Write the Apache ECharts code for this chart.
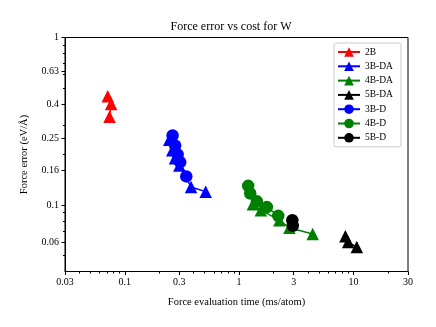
<!DOCTYPE html>
<html>
<head>
<meta charset="utf-8">
<script src="https://cdn.jsdelivr.net/npm/echarts@6/dist/echarts.min.js"></script>
<style>
  html, body { margin: 0; padding: 0; background: #fff; }
  #chart { width: 436px; height: 327px; }
</style>
</head>
<body>
<div id="chart"></div>
<script>
// tick values and labels (log axes)
const xMajor = [0.03, 0.1, 0.3, 1, 3, 10, 30]
const xMajorLabels = ['0.03', '0.1', '0.3', '1', '3', '10', '30']
const xMinor = [0.04, 0.05, 0.06, 0.07, 0.08, 0.09, 0.2, 0.4, 0.5, 0.6, 0.7, 0.8, 0.9,
  2, 4, 5, 6, 7, 8, 9, 20]
const yMajor = [0.06, 0.1, 0.16, 0.25, 0.4, 0.63, 1]
const yMajorLabels = ['0.06', '0.1', '0.16', '0.25', '0.4', '0.63', '1']
const yMinor = [0.05, 0.07, 0.08, 0.09, 0.2, 0.3, 0.5, 0.6, 0.7, 0.8, 0.9]

// series values: time (ms/atom) and force error (eV/Å)
const time2B = [0.071, 0.076, 0.0735]
const err2B = [0.445, 0.40, 0.336]
const time3BDA = [0.245, 0.26, 0.275, 0.30, 0.38, 0.51]
const err3BDA = [0.245, 0.212, 0.19, 0.172, 0.128, 0.12]
const time4BDA = [1.32, 1.55, 2.25, 2.75, 4.4]
const err4BDA = [0.101, 0.093, 0.081, 0.073, 0.067]
const time5BDA = [8.5, 9.0, 10.7]
const err5BDA = [0.065, 0.06, 0.056]
const time3BD = [0.262, 0.276, 0.29, 0.305, 0.345]
const err3BD = [0.26, 0.226, 0.2, 0.18, 0.148]
const time4BD = [1.2, 1.25, 1.43, 1.75, 2.2]
const err4BD = [0.13, 0.117, 0.105, 0.097, 0.086]
const time5BD = [2.92, 2.95]
const err5BD = [0.081, 0.075]

const FONT = '"Liberation Serif", "DejaVu Serif", serif'

function pairs(xs, ys) {
  return xs.map((x, i) => [x, ys[i]])
}

function labelFor(ticks, labels) {
  return (v) => {
    const i = ticks.findIndex(t => Math.abs(t - v) / t < 1e-3)
    return i >= 0 ? labels[i] : ''
  }
}

function makeSeries(name, xs, ys, color, symbol) {
  return {
    name,
    type: 'line',
    data: pairs(xs, ys),
    symbol,
    symbolSize: 12.5,
    showAllSymbol: true,
    color,
    lineStyle: { color, width: 1.5 },
    itemStyle: { color },
    emphasis: { disabled: true },
    animation: false,
  }
}

const chart = echarts.init(document.getElementById('chart'), null, { renderer: 'canvas' })

const option = {
  animation: false,
  graphic: [{
    type: 'text',
    left: 236.5 - 66,
    top: 21,
    style: { text: 'Force error vs cost for W', font: '12px ' + FONT, fill: '#000' },
  }],
  grid: {
    left: 65, right: 28, top: 37.5, bottom: 55.5,
    show: true, borderColor: '#000', borderWidth: 1,
  },
  legend: {
    orient: 'vertical',
    left: 334,
    top: 43,
    padding: [4, 8, 4, 3],
    itemWidth: 22,
    itemHeight: 12,
    itemGap: 4.3,
    backgroundColor: '#fff',
    borderColor: '#ccc',
    borderWidth: 1,
    borderRadius: 2,
    textStyle: { fontFamily: FONT, fontSize: 9.5, color: '#000' },
    data: ['2B', '3B-DA', '4B-DA', '5B-DA', '3B-D', '4B-D', '5B-D'],
  },
  xAxis: [{
    type: 'log', logBase: 10, min: 0.03, max: 30,
    name: 'Force evaluation time (ms/atom)',
    nameLocation: 'middle', nameGap: 25,
    nameTextStyle: { fontFamily: FONT, fontSize: 10.5, color: '#000' },
    axisLine: { lineStyle: { color: '#000', width: 1 } },
    axisTick: { customValues: xMajor, length: 3.5, lineStyle: { color: '#000' } },
    axisLabel: {
      customValues: xMajor, formatter: labelFor(xMajor, xMajorLabels),
      fontFamily: FONT, fontSize: 10, color: '#000', margin: 6,
    },
    splitLine: { show: false },
  }, {
    type: 'log', logBase: 10, min: 0.03, max: 30, position: 'bottom',
    axisLine: { show: false },
    axisTick: { customValues: xMinor, length: 2, lineStyle: { color: '#000' } },
    axisLabel: { show: false },
    splitLine: { show: false },
  }],
  yAxis: [{
    type: 'log', logBase: 10, min: 0.04, max: 1,
    name: 'Force error (eV/Å)',
    nameLocation: 'middle', nameGap: 35,
    nameTextStyle: { fontFamily: FONT, fontSize: 10.5, color: '#000' },
    axisLine: { lineStyle: { color: '#000', width: 1 } },
    axisTick: { customValues: yMajor, length: 3.5, lineStyle: { color: '#000' } },
    axisLabel: {
      customValues: yMajor, formatter: labelFor(yMajor, yMajorLabels),
      fontFamily: FONT, fontSize: 10, color: '#000', margin: 6,
    },
    splitLine: { show: false },
  }, {
    type: 'log', logBase: 10, min: 0.04, max: 1, position: 'left',
    axisLine: { show: false },
    axisTick: { customValues: yMinor, length: 2, lineStyle: { color: '#000' } },
    axisLabel: { show: false },
    splitLine: { show: false },
  }],
  series: [
    makeSeries('2B', time2B, err2B, '#ff0000', 'triangle'),
    makeSeries('3B-DA', time3BDA, err3BDA, '#0000ff', 'triangle'),
    makeSeries('4B-DA', time4BDA, err4BDA, '#008000', 'triangle'),
    makeSeries('5B-DA', time5BDA, err5BDA, '#000000', 'triangle'),
    makeSeries('3B-D', time3BD, err3BD, '#0000ff', 'circle'),
    makeSeries('4B-D', time4BD, err4BD, '#008000', 'circle'),
    makeSeries('5B-D', time5BD, err5BD, '#000000', 'circle'),
  ],
}

chart.setOption(option)
</script>
</body>
</html>
